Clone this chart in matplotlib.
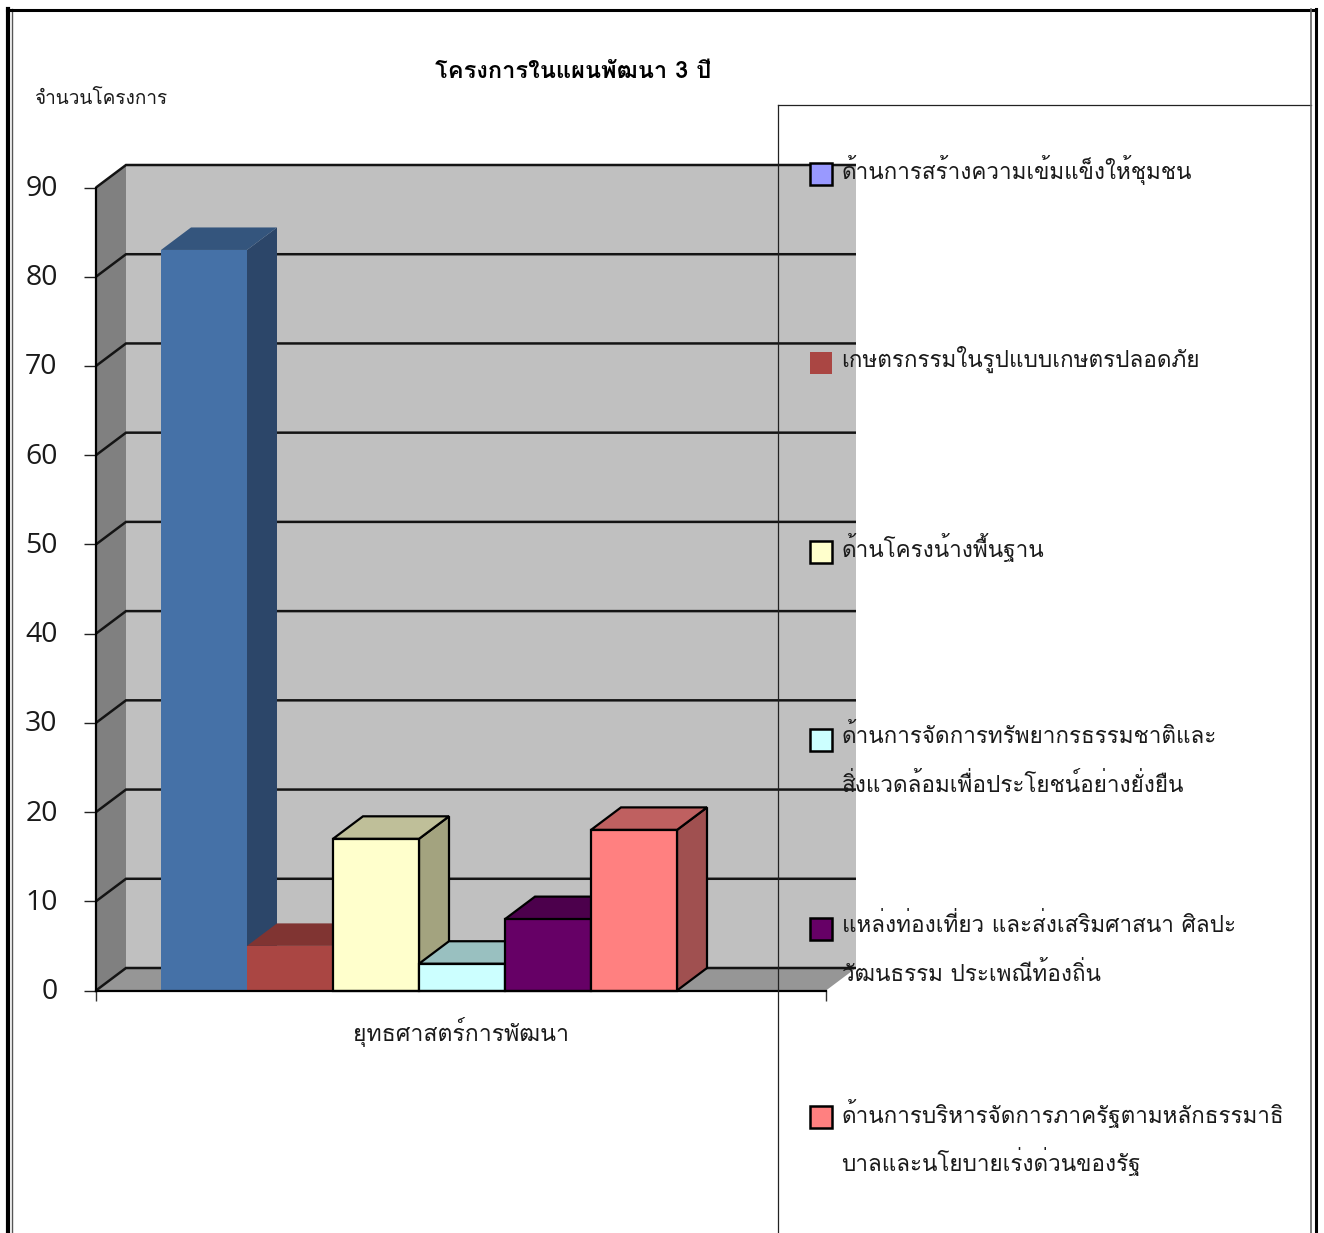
import matplotlib
matplotlib.use("Agg")
import matplotlib.pyplot as plt
from matplotlib import font_manager as fm
from matplotlib.patches import Polygon, Rectangle
from matplotlib.lines import Line2D
from matplotlib.ft2font import FT2Font
from matplotlib.transforms import ScaledTranslation

# Find an installed family that has Thai glyphs
thai = {}
for f in fm.fontManager.ttflist:
    try:
        cm = FT2Font(f.fname).get_charmap()
    except Exception:
        continue
    if all(ord(c) in cm for c in "กำั้"):
        thai.setdefault(f.name, f.fname)
families = list(thai) + ["DejaVu Sans"]
plt.rcParams["font.family"] = families

title = "โครงการในแผนพัฒนา 3 ปี"
y_title = "จำนวนโครงการ"
category = "ยุทธศาสตร์การพัฒนา"
values = [83, 5, 17, 3, 8, 18]
yticks = list(range(0, 100, 10))
front_colors = ["#4571A7", "#AA4643", "#FFFFCC", "#CCFFFF", "#660066", "#FF8080"]
top_colors = ["#34557D", "#803432", "#BFBF99", "#99C0C0", "#4C004C", "#BF6060"]
side_colors = ["#2C4669", "#6F2E2C", "#A3A37F", "#88AAAA", "#400040", "#A05050"]
legend_colors = ["#9999FF", "#AA4643", "#FFFFCC", "#CCFFFF", "#660066", "#FF8080"]
legend_edges = ["black", "none", "black", "black", "black", "black"]
legend_labels = [
    "ด้านการสร้างความเข้มแข็งให้ชุมชน",
    "เกษตรกรรมในรูปแบบเกษตรปลอดภัย",
    "ด้านโครงน้างพื้นฐาน",
    "ด้านการจัดการทรัพยากรธรรมชาติและ\nสิ่งแวดล้อมเพื่อประโยชน์อย่างยั่งยืน",
    "แหล่งท่องเที่ยว และส่งเสริมศาสนา ศิลปะ\nวัฒนธรรม ประเพณีท้องถิ่น",
    "ด้านการบริหารจัดการภาครัฐตามหลักธรรมาธิ\nบาลและนโยบายเร่งด่วนของรัฐ",
]
legend_y = [174, 363, 552, 740, 929, 1117]
legend_first_line_y = [170, 359, 548, 736, 925, 1113]

W, H = 1324, 1233
fig = plt.figure(figsize=(W / 100, H / 100), dpi=100, facecolor="white")
def fx(p): return p / W
def fy(p): return 1 - p / H

ax = fig.add_axes([fx(96), fy(990.5), 730 / W, 803 / H])
ax.set_xlim(0, 1)
ax.set_ylim(0, 90)
ax.patch.set_visible(False)
for s in ("top", "right"):
    ax.spines[s].set_visible(False)
for s in ("left", "bottom"):
    ax.spines[s].set_linewidth(1.6)
    ax.spines[s].set_zorder(6)

DX, DY = 30 / 730, 22.5 / (803 / 90)
ax.add_patch(Polygon([(DX, DY), (1 + DX, DY), (1 + DX, 90 + DY), (DX, 90 + DY)], fc="#C0C0C0", ec="none", zorder=1, clip_on=False))
ax.add_patch(Polygon([(0, 0), (DX, DY), (DX, 90 + DY), (0, 90)], fc="#808080", ec="none", zorder=1, clip_on=False))
ax.add_patch(Polygon([(0, 0), (1, 0), (1 + DX, DY), (DX, DY)], fc="#969696", ec="none", zorder=1, clip_on=False))
for v in yticks:
    ax.plot([0, DX, 1 + DX], [v, v + DY, v + DY], color="#141414", lw=1.8, zorder=2, clip_on=False, solid_joinstyle="miter", solid_capstyle="butt")

bw = 86 / 730
x0 = 65 / 730
for i, v in enumerate(values):
    l, r = x0 + i * bw, x0 + (i + 1) * bw
    ec = "none" if i < 2 else "black"
    lw = 0 if i < 2 else 1.6
    ax.add_patch(Polygon([(r, 0), (r + DX, DY), (r + DX, v + DY), (r, v)], fc=side_colors[i], ec=ec, lw=lw, zorder=3, clip_on=False))
    ax.add_patch(Polygon([(l, v), (r, v), (r + DX, v + DY), (l + DX, v + DY)], fc=top_colors[i], ec=ec, lw=lw, zorder=3, clip_on=False))
for i, v in enumerate(values):
    l = x0 + i * bw
    ax.bar(l, v, bw, align="edge", color=front_colors[i], edgecolor="black" if i >= 2 else "none", linewidth=1.6 if i >= 2 else 0, zorder=4, clip_on=False)

ax.set_yticks(yticks)
ax.tick_params(axis="y", length=8.6, width=1, pad=19, labelsize=20.5, color="#222222", labelcolor="#1a1a1a")
up = ScaledTranslation(0, 2 / 100, fig.dpi_scale_trans)
for lb in ax.get_yticklabels():
    lb.set_family(["Open Sans", "DejaVu Sans"])
    lb.set_transform(lb.get_transform() + up)
ax.set_xticks([0.5], [category])
ax.set_xticks([0, 1], minor=True)
ax.tick_params(axis="x", which="major", length=0, pad=19, labelsize=16.6, labelcolor="#1a1a1a")
ax.tick_params(axis="x", which="minor", length=7, width=1, color="#333333")

fig.text(fx(573), fy(71), title, ha="center", va="center", fontsize=17, fontweight="bold", color="black")
fig.text(fx(34), fy(99), y_title, ha="left", va="center", fontsize=13.7, color="#1a1a1a")

# Legend box
for xs, ys in [((778, 778), (105, 1233)), ((778, 1311), (105, 105))]:
    fig.add_artist(Line2D([fx(x) for x in xs], [fy(y) for y in ys], color="#222222", lw=0.9, zorder=8))
for c, e, y, ty, lab in zip(legend_colors, legend_edges, legend_y, legend_first_line_y, legend_labels):
    fig.add_artist(Rectangle((fx(810), fy(y + 11)), 22 / W, 22 / H, fc=c, ec=e, lw=1.8, zorder=9))
    for k, line in enumerate(lab.split("\n")):
        fig.text(fx(841.5), fy(ty + k * 49), line, ha="left", va="center", fontsize=16.2, color="#1a1a1a", zorder=10)

# Outer page frame
frame = [((7.5, 7.5), (9, 1233), 3.0, "black"), ((12, 12), (9, 1233), 1.0, "#555555"),
         ((7, 1316), (10, 10), 2.2, "black"), ((1315.5, 1315.5), (9, 1233), 2.2, "black"),
         ((1311, 1311), (9, 1233), 1.2, "#666666")]
for xs, ys, lw, c in frame:
    fig.add_artist(Line2D([fx(x) for x in xs], [fy(y) for y in ys], color=c, lw=lw, zorder=11))

fig.savefig("out.png", dpi=100)
